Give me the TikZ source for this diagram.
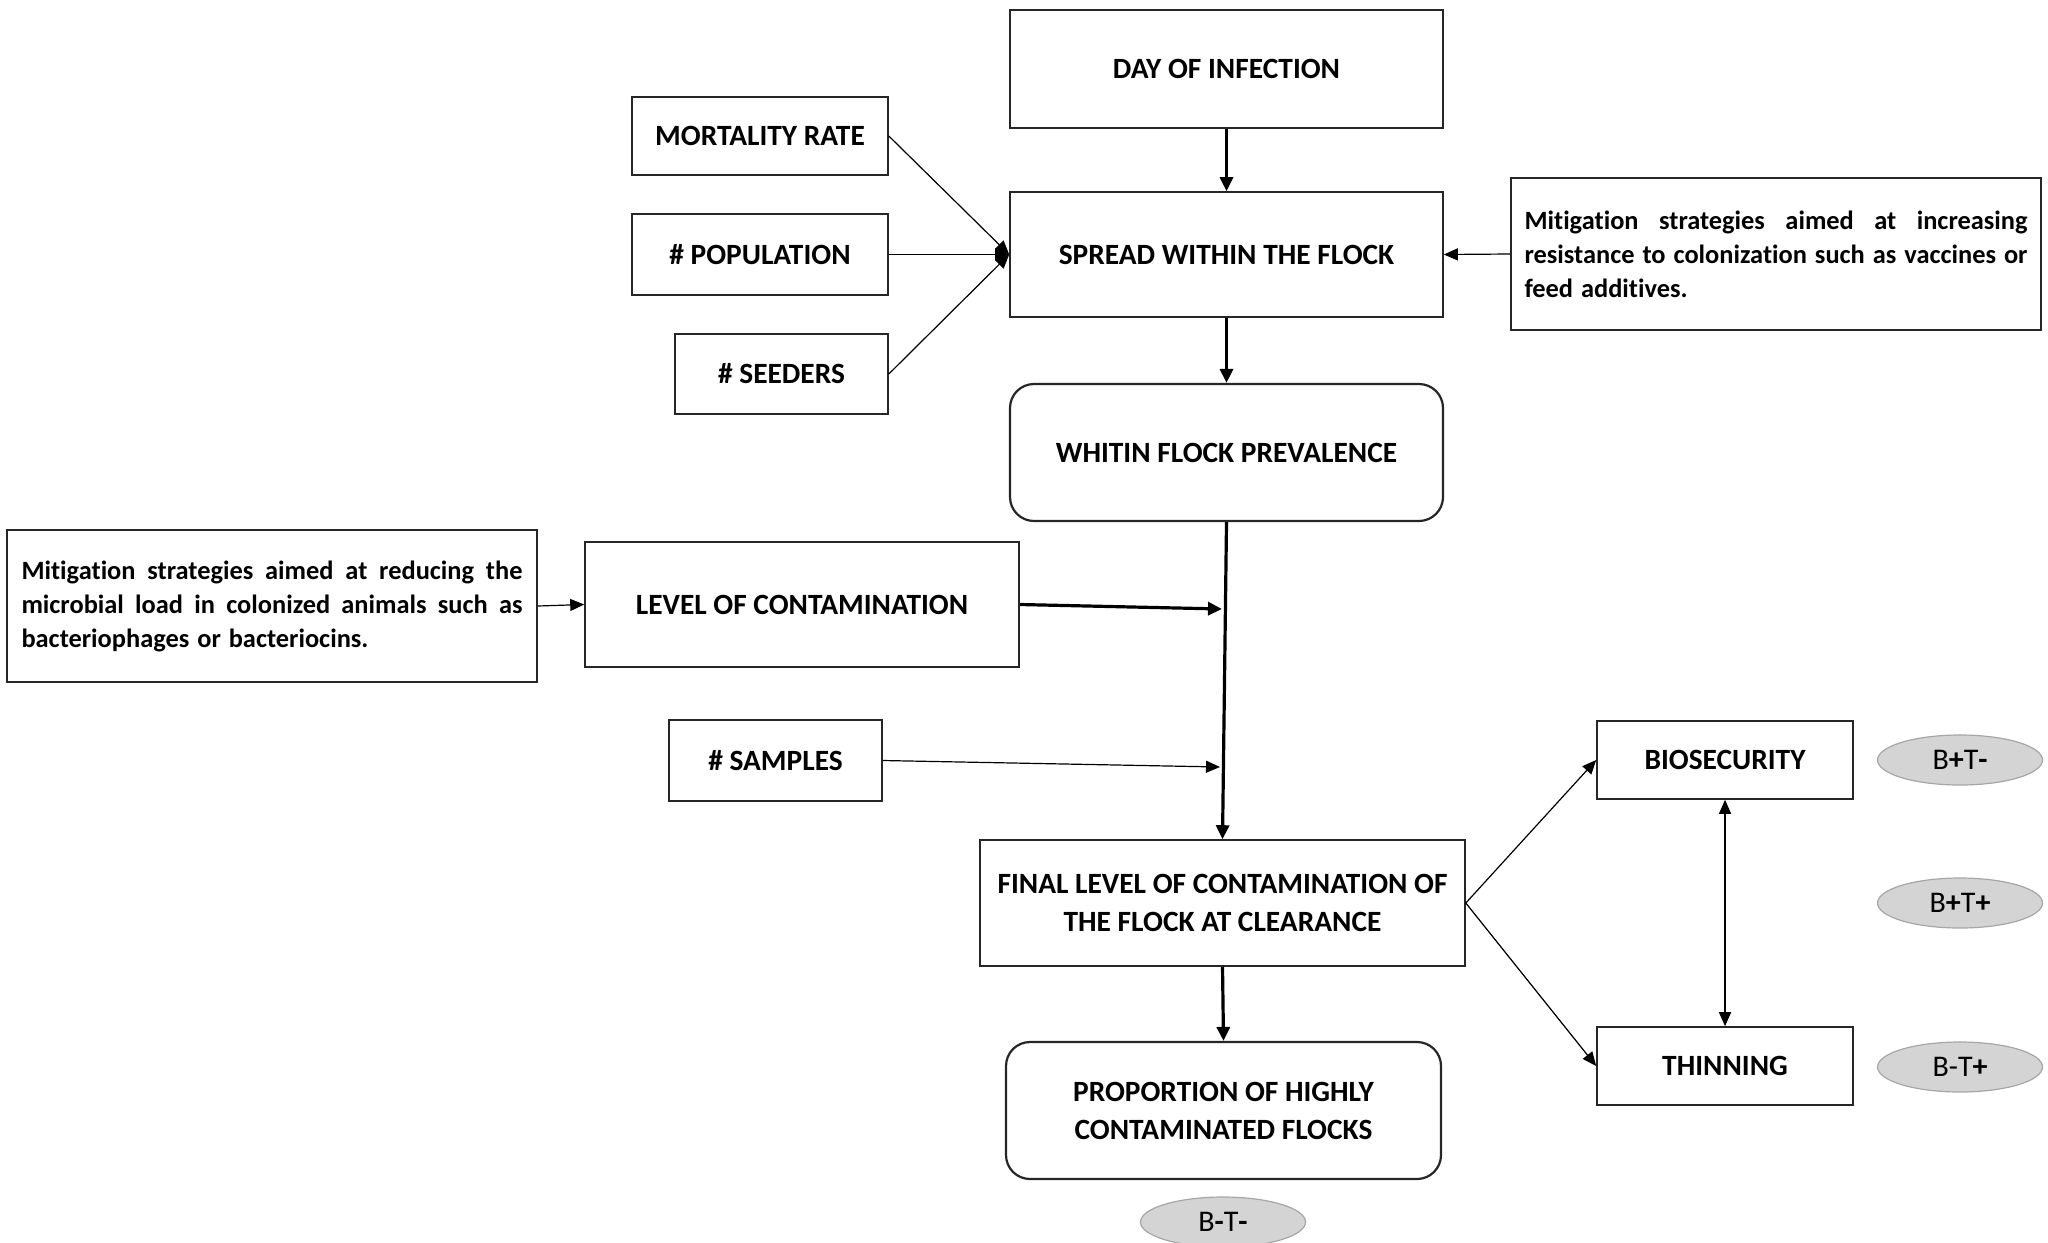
\documentclass[tikz,border=0pt]{standalone}
\usepackage{fontspec}
\setmainfont[Ligatures=NoCommon]{Carlito}
\usetikzlibrary{arrows.meta,shapes.geometric}
\begin{document}
\begin{tikzpicture}[x=0.5pt,y=-0.5pt,
  box/.style={draw=black!85, line width=0.8pt, rectangle, inner sep=0pt, align=center,
    font=\fontsize{14.7}{19}\selectfont\bfseries},
  rbox/.style={box, rounded corners=12pt, line width=1.1pt},
  mitbox/.style={draw=black!85, line width=0.8pt, rectangle, inner sep=0pt,
    minimum width=265pt, minimum height=76pt,
    font=\fontsize{13.2}{17}\selectfont\bfseries},
  oval/.style={ellipse, draw=black!35, fill=black!17, line width=0.6pt, inner sep=0pt,
    minimum width=82.5pt, minimum height=25pt, font=\fontsize{15}{18}\selectfont},
  thick arrow/.style={-{Triangle[length=7pt,width=6.5pt]}, line width=1.6pt},
  thin arrow/.style={-{Triangle[length=7pt,width=6pt]}, line width=0.6pt}
]
\useasboundingbox (0,0) rectangle (2048,1242);

% main column
\node[box, minimum width=216.5pt, minimum height=59pt] (day) at (1226.5,69) {DAY OF INFECTION};
\node[box, minimum width=216.5pt, minimum height=62.5pt] (spread) at (1226.5,254.5) {SPREAD WITHIN THE FLOCK};
\node[rbox, minimum width=216.5pt, minimum height=68.5pt] (prev) at (1226.5,452.5) {WHITIN FLOCK PREVALENCE};
\node[box, minimum width=242.5pt, minimum height=63pt] (final) at (1222.5,903) {FINAL LEVEL OF CONTAMINATION OF\\THE FLOCK AT CLEARANCE};
\node[rbox, minimum width=217.5pt, minimum height=68.5pt] (prop) at (1223.5,1110.5) {PROPORTION OF HIGHLY\\CONTAMINATED FLOCKS};

% left inputs
\node[box, minimum width=128pt, minimum height=39pt] (mort) at (760,136) {MORTALITY RATE};
\node[box, minimum width=128pt, minimum height=40.5pt] (pop) at (760,254.5) {\# POPULATION};
\node[box, minimum width=106.5pt, minimum height=40pt] (seed) at (781.5,374) {\# SEEDERS};
\node[box, minimum width=217pt, minimum height=62.5pt] (level) at (802,604.5) {LEVEL OF CONTAMINATION};
\node[box, minimum width=106.5pt, minimum height=40.5pt] (samp) at (775.5,760.5) {\# SAMPLES};

% mitigation boxes
\node[mitbox] (rmit) at (1776,254) {\parbox{251.5pt}{\hyphenpenalty=10000\spaceskip=0.3em plus 2em minus 0.1em\relax
  Mitigation strategies aimed at increasing\linebreak resistance to colonization such as vaccines or\linebreak feed additives.}};
\node[mitbox] (lmit) at (272,606) {\parbox{250.5pt}{\hyphenpenalty=10000\spaceskip=0.3em plus 2em minus 0.1em\relax
  Mitigation strategies aimed at reducing the\linebreak microbial load in colonized animals such as\linebreak bacteriophages or bacteriocins.}};

% right branch
\node[box, minimum width=128pt, minimum height=39pt] (bio) at (1725,760) {BIOSECURITY};
\node[box, minimum width=128pt, minimum height=39pt] (thin) at (1725,1066) {THINNING};

% ovals
\node[oval] (o1) at (1960,760) {B\textbf{+}T\textbf{-}};
\node[oval] (o2) at (1960,903) {B\textbf{+}T\textbf{+}};
\node[oval] (o3) at (1960,1067) {B-T\textbf{+}};
\node[oval] (o4) at (1223,1222) {B\textbf{-}T\textbf{-}};

% connectors
\coordinate (jlevel) at (1222,609);
\coordinate (jsamp) at (1220,767);

\draw[thick arrow] (day.south) -- (spread.north);
\draw[thick arrow] (spread.south) -- (prev.north);
\draw[thick arrow] (prev.south) -- (final.north);
\draw[thick arrow] (level.east) -- (jlevel);
\draw[thin arrow] (samp.east) -- (jsamp);
\draw[thick arrow] (final.south) -- (prop.north);

\draw[thin arrow] (mort.east) -- (spread.west);
\draw[thin arrow] (pop.east) -- (spread.west);
\draw[thin arrow] (seed.east) -- (spread.west);
\draw[thin arrow] (rmit.west) -- (spread.east);
\draw[thin arrow] (lmit.east) -- (level.west);

\draw[thin arrow] (final.east) -- (bio.west);
\draw[thin arrow] (final.east) -- (thin.west);
\draw[{Triangle[length=7pt,width=6pt]}-{Triangle[length=7pt,width=6pt]}, line width=0.7pt] (bio.south) -- (thin.north);
\end{tikzpicture}
\end{document}
